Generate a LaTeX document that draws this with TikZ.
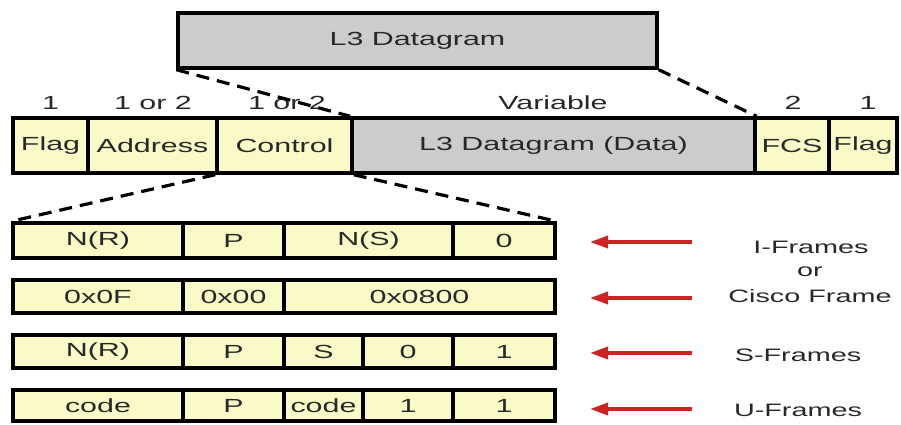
\documentclass[tikz,border=0pt]{standalone}
\usepackage{fontspec}
\setmainfont{Liberation Sans}[FakeStretch=1.6]
\usetikzlibrary{arrows.meta}

\definecolor{fieldfill}{RGB}{250,250,200}
\definecolor{datafill}{RGB}{204,204,204}
\definecolor{inkgray}{RGB}{40,40,40}
\definecolor{arrowred}{RGB}{205,35,35}

\tikzset{
  field/.style={draw=black, line width=3.4pt, fill=fieldfill, inner sep=0pt,
    text=inkgray, font=\fontsize{19}{22}\selectfont},
  datafield/.style={field, fill=datafill},
  sizelabel/.style={inner sep=0pt, text=inkgray, font=\fontsize{19}{22}\selectfont},
  kindlabel/.style={inner sep=0pt, text=inkgray, align=center,
    font=\fontsize{18}{21}\selectfont},
  link/.style={draw=black, line width=3.2pt, dash pattern=on 13pt off 8pt},
  pointer/.style={draw=arrowred, line width=3.4pt,
    -{Triangle[length=18pt,width=12pt]}}
}

\begin{document}
\begin{tikzpicture}[x=1pt, y=-1pt]
\useasboundingbox[fill=white] (0,0) rectangle (901,424);

% encapsulated layer-3 datagram
\node[datafield, minimum width=479pt, minimum height=55pt] (l3top) at (417.5,40.5) {L3 Datagram};

% HDLC frame
\node[field, minimum width=75pt,  minimum height=55pt] (flagL) at (50.5,145.5)  {Flag};
\node[field, minimum width=129pt, minimum height=55pt] (addr)  at (152.5,145.5) {Address};
\node[field, minimum width=135pt, minimum height=55pt] (ctrl)  at (284.5,145.5) {Control};
\node[datafield, minimum width=403pt, minimum height=55pt] (data) at (553.5,145.5) {L3 Datagram (Data)};
\node[field, minimum width=74pt,  minimum height=55pt] (fcs)   at (792,145.5)   {FCS};
\node[field, minimum width=68pt,  minimum height=55pt] (flagR) at (863,145.5)   {Flag};

% field sizes in bytes
\node[sizelabel] (szflagL) at (50.5,103)  {1};
\node[sizelabel] (szaddr)  at (153,103)   {1 or 2};
\node[sizelabel] (szctrl)  at (287,103)   {1 or 2};
\node[sizelabel] (szdata)  at (553,103)   {Variable};
\node[sizelabel] (szfcs)   at (793,103)   {2};
\node[sizelabel] (szflagR) at (868,103)   {1};

% control field layouts
\node[field, minimum width=170pt, minimum height=35pt] (ia) at (98,240.5)    {N(R)};
\node[field, minimum width=101pt, minimum height=35pt] (ib) at (233.5,240.5)  {P};
\node[field, minimum width=169pt, minimum height=35pt] (ic) at (368.5,240.5)  {N(S)};
\node[field, minimum width=102pt, minimum height=35pt] (id) at (504,240.5)    {0};

\node[field, minimum width=170pt, minimum height=33pt] (ca) at (98,296.5)    {0x0F};
\node[field, minimum width=101pt, minimum height=33pt] (cb) at (233.5,296.5)  {0x00};
\node[field, minimum width=271pt, minimum height=33pt] (cc) at (419.5,296.5)  {0x0800};

\node[field, minimum width=170pt, minimum height=33pt] (sa) at (98,351.5)    {N(R)};
\node[field, minimum width=101pt, minimum height=33pt] (sb) at (233.5,351.5)  {P};
\node[field, minimum width=79pt,  minimum height=33pt] (sc) at (323.5,351.5)  {S};
\node[field, minimum width=90pt,  minimum height=33pt] (sd) at (408,351.5)    {0};
\node[field, minimum width=102pt, minimum height=33pt] (se) at (504,351.5)    {1};

\node[field, minimum width=170pt, minimum height=31pt] (ua) at (98,405.5)      {code};
\node[field, minimum width=101pt, minimum height=31pt] (ub) at (233.5,405.5)    {P};
\node[field, minimum width=79pt,  minimum height=31pt] (uc) at (323.5,405.5)    {code};
\node[field, minimum width=90pt,  minimum height=31pt] (ud) at (408,405.5)      {1};
\node[field, minimum width=102pt, minimum height=31pt] (ue) at (504,405.5)      {1};

% expansion guides
\draw[link] (l3top.south west) -- (data.north west);
\draw[link] (l3top.south east) -- (data.north east);
\draw[link] (ctrl.south west) -- (ia.north west);
\draw[link] (ctrl.south east) -- (id.north east);

% frame type names
\node[kindlabel] (iname) at (811,247) {I-Frames};
\node[kindlabel] (orname) at (810,272) {or};
\node[kindlabel] (cname) at (810,296) {Cisco Frame};
\node[kindlabel] (sname) at (798,355) {S-Frames};
\node[kindlabel] (uname) at (798,410) {U-Frames};

% pointers to the layouts
\coordinate (itail) at (692,242); \coordinate (ihead) at (590,242);
\coordinate (ctail) at (692,298); \coordinate (chead) at (590,298);
\coordinate (stail) at (692,353); \coordinate (shead) at (590,353);
\coordinate (utail) at (692,409); \coordinate (uhead) at (590,409);
\draw[pointer] (itail) -- (ihead);
\draw[pointer] (ctail) -- (chead);
\draw[pointer] (stail) -- (shead);
\draw[pointer] (utail) -- (uhead);
\end{tikzpicture}
\end{document}
